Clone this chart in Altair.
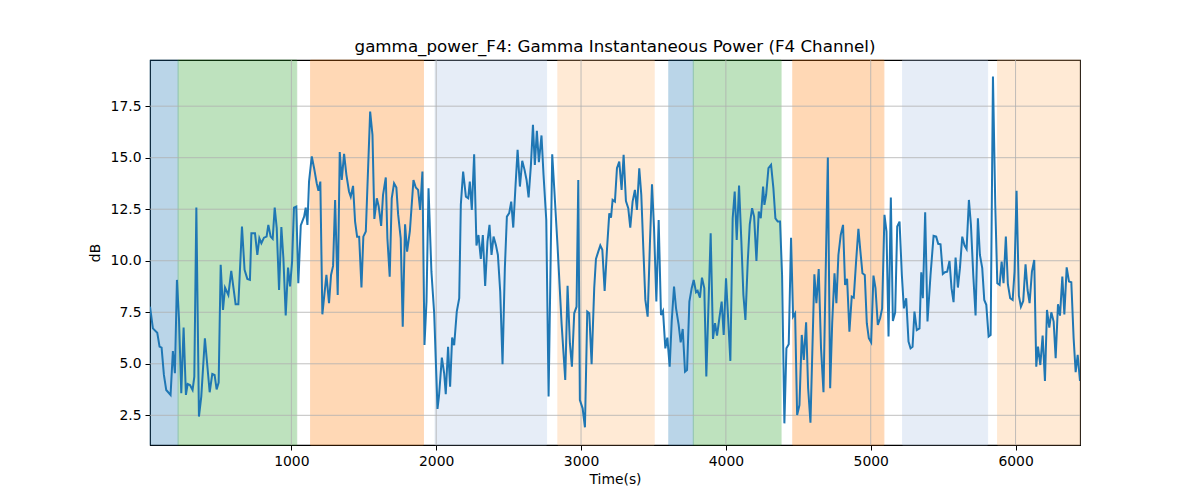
import altair as alt
import pandas as pd

# ---- line data (time in s, power in dB) ----
time_a = [24, 44, 74, 90, 104, 120, 136, 166, 182, 196,
          210, 224, 240, 256, 272, 284, 300, 318, 330, 344,
          362, 378, 403, 436, 454, 470, 484, 498, 512, 528,
          542, 565, 585, 615, 634, 659, 677, 696, 714, 724,
          749, 765, 779, 793, 811, 829, 841, 857, 871, 885,
          899, 915, 931, 945, 961, 977, 991, 1005, 1018, 1034,
          1048]
db_a = [7.77, 6.72, 6.51, 5.83, 5.78, 4.46, 3.73, 3.49, 5.62, 4.54,
        9.07, 7.21, 3.57, 6.76, 3.49, 4.02, 3.97, 3.73, 4.38, 12.58,
        2.44, 3.41, 6.24, 3.62, 4.51, 4.46, 3.76, 4.09, 9.80, 7.61,
        8.70, 8.34, 9.51, 7.89, 7.89, 11.66, 9.56, 9.12, 9.07, 11.33,
        11.33, 10.28, 11.09, 10.85, 11.12, 11.17, 11.74, 11.17, 11.06, 12.58,
        11.58, 8.58, 11.63, 10.12, 7.34, 9.67, 8.75, 9.96, 12.58, 12.63,
        8.91]

time_b = [1065, 1088, 1099, 1111, 1122, 1141, 1157, 1175, 1187, 1200,
          1214, 1242, 1260, 1274, 1288, 1302, 1320, 1334, 1348, 1364,
          1380, 1398, 1410, 1426, 1440, 1454, 1468, 1484, 1497, 1514,
          1544, 1560, 1573, 1590, 1603, 1620, 1633, 1652, 1663, 1679,
          1693, 1709, 1725, 1737, 1755, 1769, 1785, 1799, 1818, 1843,
          1859, 1875, 1889, 1905, 1919, 1933, 1947, 1967, 1986, 2009,
          2020, 2039, 2055, 2066, 2082, 2096, 2110]
db_b = [11.71, 12.14, 12.58, 11.74, 13.84, 15.06, 14.49, 13.76, 13.39, 13.84,
        7.40, 9.31, 7.94, 9.31, 9.75, 12.95, 8.34, 15.27, 13.92, 15.19,
        14.17, 13.36, 13.11, 13.63, 11.90, 11.17, 11.17, 8.70, 11.17, 11.42,
        17.24, 16.11, 12.03, 13.03, 12.63, 11.69, 13.20, 14.04, 11.09, 9.23,
        13.03, 13.76, 13.55, 12.26, 11.09, 6.80, 11.77, 10.44, 11.42, 13.92,
        13.55, 13.44, 12.47, 14.33, 5.91, 8.02, 13.52, 9.47, 7.45, 2.81,
        3.49, 5.30, 4.54, 3.52, 5.83, 3.89, 6.27]

time_c = [2124, 2142, 2159, 2170, 2186, 2205, 2221, 2232, 2246, 2262,
          2278, 2292, 2308, 2322, 2338, 2354, 2368, 2382, 2396, 2412,
          2426, 2442, 2458, 2474, 2488, 2504, 2518, 2532, 2548, 2562,
          2578, 2594, 2610, 2624, 2638, 2654, 2668, 2681, 2695, 2709,
          2727, 2741, 2760, 2776, 2801, 2815, 2838, 2866, 2891, 2907,
          2923, 2937, 2953, 2969, 2981, 2992, 3011, 3027, 3043, 3057,
          3073, 3091, 3103, 3119, 3133, 3147, 3163, 3179]
db_c = [5.90, 7.53, 8.18, 12.71, 14.33, 13.11, 13.03, 13.84, 12.47, 15.17,
        10.74, 11.25, 10.09, 11.25, 8.78, 10.93, 11.74, 10.28, 11.17, 10.77,
        10.28, 8.50, 4.98, 9.64, 12.14, 12.31, 12.87, 11.61, 13.68, 15.38,
        13.60, 14.85, 14.41, 13.92, 13.07, 14.65, 16.59, 14.65, 16.30, 14.78,
        16.08, 14.17, 11.98, 3.41, 15.17, 13.52, 10.69, 6.92, 4.22, 8.79,
        6.00, 4.86, 7.45, 7.77, 13.92, 3.24, 2.84, 1.92, 7.53, 7.45,
        4.98, 8.67, 10.09, 10.44, 10.74, 10.53, 8.54, 10.53]

time_d = [3195, 3207, 3218, 3234, 3248, 3264, 3280, 3294, 3310, 3326,
          3340, 3356, 3372, 3386, 3402, 3416, 3430, 3444, 3460, 3476,
          3490, 3504, 3520, 3536, 3552, 3566, 3582, 3596, 3612, 3626,
          3642, 3656, 3674, 3688, 3702, 3718, 3732, 3748, 3764, 3778,
          3794, 3805, 3821, 3835, 3851, 3865, 3895, 3911, 3925, 3939,
          3955, 3971, 3985, 4001, 4031, 4047, 4061, 4075, 4091, 4107,
          4121, 4135, 4151, 4165, 4181, 4195, 4211, 4227, 4241, 4257]
db_d = [12.30, 12.09, 12.95, 12.87, 14.49, 14.81, 13.44, 15.14, 12.90, 12.55,
        11.61, 12.87, 13.44, 12.47, 14.49, 13.20, 10.61, 8.10, 7.29, 10.93,
        13.71, 11.58, 8.02, 11.98, 7.37, 7.56, 5.75, 6.27, 4.86, 7.05,
        8.75, 7.69, 6.89, 6.04, 6.69, 4.62, 4.70, 8.02, 8.67, 9.07,
        8.47, 8.54, 8.21, 9.18, 8.67, 4.38, 11.33, 6.21, 6.97, 6.37,
        7.21, 8.02, 6.40, 9.15, 5.14, 12.06, 13.36, 11.01, 13.65, 10.93,
        8.34, 7.13, 9.96, 11.77, 12.55, 12.14, 9.99, 12.39, 12.06, 13.60]

time_e = [4266, 4278, 4294, 4312, 4328, 4342, 4358, 4374, 4388, 4404,
          4418, 4434, 4450, 4464, 4478, 4492, 4508, 4524, 4538, 4554,
          4568, 4584, 4611, 4625, 4641, 4657, 4674, 4687, 4704, 4720,
          4734, 4750, 4763, 4777, 4793, 4809, 4823, 4837, 4853, 4869,
          4883, 4899, 4915, 4929, 4943, 4959, 4973, 4987, 5003, 5019,
          5033, 5049, 5065, 5079, 5095, 5109, 5123, 5139, 5153, 5169,
          5183, 5199, 5215, 5229, 5245, 5261, 5275, 5289, 5302, 5318]
db_e = [12.71, 13.20, 14.49, 14.65, 13.52, 12.06, 11.90, 11.90, 9.31, 2.11,
        5.75, 5.95, 11.12, 7.29, 7.45, 2.52, 3.00, 6.40, 5.19, 7.01,
        3.81, 2.14, 9.34, 7.94, 9.60, 5.75, 3.62, 8.67, 15.01, 3.81,
        6.97, 9.39, 7.94, 10.28, 11.25, 11.74, 8.83, 9.12, 6.56, 8.26,
        8.21, 9.96, 11.55, 10.44, 9.39, 9.31, 6.97, 6.24, 6.04, 9.28,
        8.67, 6.89, 7.21, 7.69, 12.23, 11.42, 6.32, 13.07, 7.08, 7.50,
        11.66, 11.90, 9.31, 7.69, 8.18, 6.08, 5.75, 5.83, 7.53, 6.64]

time_f = [5337, 5349, 5360, 5376, 5392, 5413, 5434, 5452, 5466, 5482,
          5498, 5512, 5528, 5544, 5558, 5572, 5586, 5602, 5616, 5632,
          5648, 5662, 5678, 5692, 5708, 5724, 5740, 5754, 5770, 5784,
          5798, 5814, 5828, 5844, 5860, 5874, 5890, 5904, 5917, 5933,
          5947, 5963, 5980, 5993, 6007, 6023, 6037, 6053, 6069, 6083,
          6097, 6113, 6129, 6143, 6155, 6171, 6187, 6203, 6217, 6233,
          6247, 6263, 6277, 6293, 6307, 6323, 6337, 6353, 6369, 6385,
          6401, 6415, 6429, 6445]
db_f = [6.72, 9.44, 8.18, 12.35, 7.05, 9.31, 11.21, 11.17, 10.82, 10.80,
        9.36, 9.44, 9.47, 9.99, 8.67, 7.99, 10.15, 8.70, 9.64, 11.17,
        10.74, 10.57, 12.95, 11.74, 9.31, 7.34, 12.06, 10.28, 9.64, 8.10,
        7.86, 6.32, 6.40, 18.94, 12.71, 8.91, 8.83, 9.96, 8.91, 11.17,
        8.86, 8.18, 8.10, 9.47, 13.39, 8.31, 7.77, 8.05, 9.83, 8.58,
        7.94, 9.47, 10.04, 4.86, 5.83, 4.94, 6.37, 4.17, 7.61, 6.76,
        7.50, 7.05, 5.27, 7.89, 7.34, 9.23, 7.40, 9.68, 8.99, 8.96,
        6.24, 4.59, 5.43, 4.17]

# ---- shaded spans ----
span_start = [24, 218, 1133, 1992, 2840, 3606, 3775, 4462, 5220, 5876]
span_end = [218, 1037, 1912, 2762, 3505, 3775, 4381, 5091, 5807, 6445]
span_kind = ["s1", "s2", "s3", "s4", "s5", "s1", "s2", "s3", "s4", "s5"]
kind_names = ["s1", "s2", "s3", "s4", "s5"]
kind_colors = ["#1f77b4", "#2ca02c", "#ff7f0e", "#aec7e8", "#ffbb78"]

# ---- ticks ----
x_ticks = [1000, 2000, 3000, 4000, 5000, 6000]
y_ticks = [2.5, 5.0, 7.5, 10.0, 12.5, 15.0, 17.5]
x_domain = [24, 6445]
y_domain = [1.06, 19.74]

times = time_a + time_b + time_c + time_d + time_e + time_f
dbs = db_a + db_b + db_c + db_d + db_e + db_f
line_df = pd.DataFrame({"t": times, "db": dbs})
span_df = pd.DataFrame({"start": span_start, "end": span_end, "kind": span_kind})
xg_df = pd.DataFrame({"v": x_ticks})
yg_df = pd.DataFrame({"v": y_ticks})

FONT = "DejaVu Sans"
W, H = 930, 385

xscale = alt.Scale(domain=x_domain, nice=False, zero=False)
yscale = alt.Scale(domain=y_domain, nice=False, zero=False)

x_axis = alt.Axis(values=x_ticks, format="d", title="Time(s)", grid=False,
                  domain=False, tickSize=5, tickColor="black", tickWidth=1,
                  labelPadding=4, labelFontSize=13.9, labelColor="black",
                  labelFont=FONT, titleFont=FONT, titleFontSize=13.9,
                  titleFontWeight="normal", titleColor="black", titlePadding=5,
                  labelFlush=False)
y_axis = alt.Axis(values=y_ticks, format=".1f", title="dB", grid=False,
                  domain=False, tickSize=5, tickColor="black", tickWidth=1,
                  labelPadding=4, labelFontSize=13.9, labelColor="black",
                  labelFont=FONT, titleFont=FONT, titleFontSize=13.9,
                  titleFontWeight="normal", titleColor="black", titlePadding=8,
                  labelFlush=False)

spans = alt.Chart(span_df).mark_rect(opacity=0.3, strokeWidth=1).encode(
    x=alt.X("start:Q", scale=xscale, axis=x_axis),
    x2="end:Q",
    color=alt.Color("kind:N", scale=alt.Scale(domain=kind_names, range=kind_colors), legend=None),
    stroke=alt.Stroke("kind:N", scale=alt.Scale(domain=kind_names, range=kind_colors), legend=None),
)

xgrid = alt.Chart(xg_df).mark_rule(color="#b0b0b0", strokeWidth=0.8).encode(
    x=alt.X("v:Q", scale=xscale, axis=x_axis)
)
ygrid = alt.Chart(yg_df).mark_rule(color="#b0b0b0", strokeWidth=0.8).encode(
    y=alt.Y("v:Q", scale=yscale, axis=y_axis)
)

line = alt.Chart(line_df).mark_line(color="#1f77b4", strokeWidth=2, clip=True).encode(
    x=alt.X("t:Q", scale=xscale, axis=x_axis),
    y=alt.Y("db:Q", scale=yscale, axis=y_axis),
)

chart = alt.layer(spans, xgrid, ygrid, line).resolve_scale(
    color="independent", stroke="independent"
).properties(
    width=W, height=H,
    title=alt.TitleParams(
        "gamma_power_F4: Gamma Instantaneous Power (F4 Channel)",
        font=FONT, fontSize=16.7, fontWeight="normal", color="black",
        anchor="middle", frame="group", offset=4,
    ),
    autosize=alt.AutoSizeParams(type="none"),
    padding={"left": 142, "top": 52, "right": 112, "bottom": 47},
).configure(
    background="white"
).configure_view(
    stroke="black", strokeWidth=1.1
)

chart.save("out.html", embed_options={"renderer": "svg", "actions": False})
